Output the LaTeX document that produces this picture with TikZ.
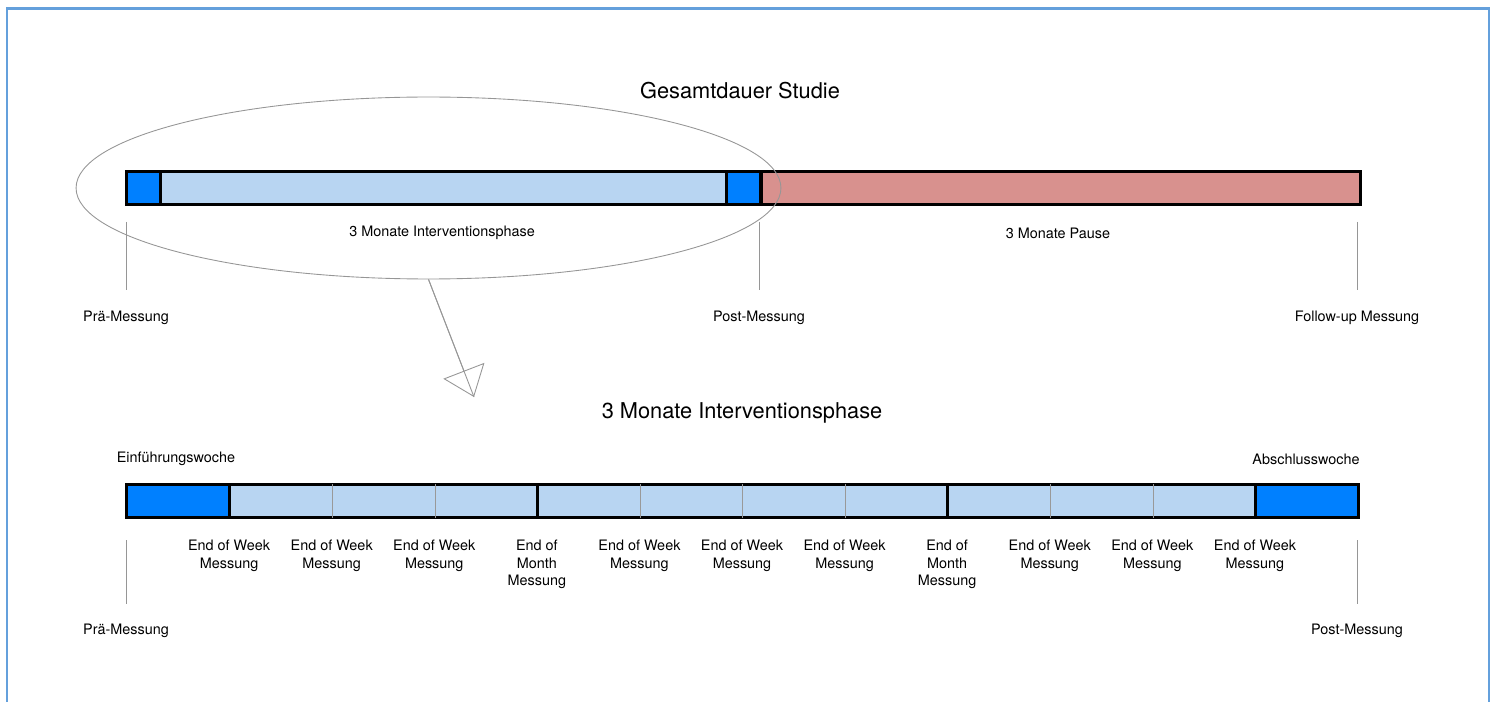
\documentclass[tikz,border=0pt]{standalone}
\usepackage{fontspec}
\setmainfont{TeX Gyre Heros}
\usetikzlibrary{arrows.meta,positioning,shapes.geometric}

\definecolor{messblau}{RGB}{0,128,255}
\definecolor{phasenblau}{RGB}{184,213,242}
\definecolor{pausenrot}{RGB}{216,145,142}
\definecolor{rahmenblau}{RGB}{100,160,220}
\definecolor{strichgrau}{RGB}{150,150,150}

\begin{document}
\begin{tikzpicture}
[x=0.02cm, y=-0.02cm, font=\fontsize{8.2}{9.8}\selectfont,
% STYLES
% the segments of a bar are filled boxes, the border is drawn afterwards
seg/.style={rectangle, inner sep=0pt, minimum height=0.66cm, draw=none},
barframe/.style={draw=black, line width=1.8pt},
monthdiv/.style={draw=black, line width=1.8pt},
weekdiv/.style={draw=gray!80, line width=0.5pt},
tick/.style={draw=strichgrau, line width=0.5pt},
label/.style={inner sep=0pt, align=center},
title/.style={inner sep=0pt, font=\fontsize{12.4}{14}\selectfont}]

\useasboundingbox (0,0) rectangle (1496,702);
\draw[rahmenblau, line width=1.2pt] (7,702) -- (7,8.5) -- (1489,8.5) -- (1489,702);

% Gesamtdauer
\node[title] (gesamt) at (740,91) {Gesamtdauer Studie};

\node[seg, fill=messblau, minimum width=0.67cm, anchor=west] (prae) at (126.5,188) {};
\node[seg, fill=phasenblau, minimum width=11.3cm, right=0pt of prae] (interv) {};
\node[seg, fill=messblau, minimum width=0.68cm, right=0pt of interv] (post) {};
\node[seg, fill=pausenrot, minimum width=11.97cm, right=0pt of post] (pause) {};

\draw[barframe] (prae.north west) rectangle (pause.south east);
\foreach \s in {prae,interv,post}
  \draw[monthdiv] (\s.north east) -- (\s.south east);

\node[label] (interv-lbl) at (442,233) {3 Monate Interventionsphase};
\node[label] (pause-lbl) at (1058,233) {3 Monate Pause};

% Messzeitpunkte
\foreach \x in {126,759,1357}
  \draw[tick] (\x,222) -- (\x,290);
\node[label] (prae-lbl) at (126,318) {Prä-Messung};
\node[label] (post-lbl) at (759,318) {Post-Messung};
\node[label] (follow-lbl) at (1357,318) {Follow-up Messung};

% Lupe auf die Interventionsphase
\node[ellipse, draw=strichgrau, line width=0.5pt, minimum width=14.1cm, minimum height=3.64cm, inner sep=0pt] (zoom) at (428.5,188) {};
\coordinate (zoom-tip) at (474,397);
\draw[strichgrau, line width=0.5pt] (zoom.south) -- (zoom-tip);
\draw[strichgrau, line width=0.5pt, -{Triangle[open, length=16pt, width=25pt]}] (zoom.south) -- (zoom-tip);

%%%%%%%%%%%%%%%%

% Interventionsphase
\node[title] (detail) at (742,413) {3 Monate Interventionsphase};
\node[label] (einf-lbl) at (176,459) {Einführungswoche};
\node[label] (abschl-lbl) at (1306,459) {Abschlusswoche};

\node[seg, fill=messblau, minimum width=2.0517cm, anchor=west] (einf) at (126.5,501) {};
\foreach \w in {1,...,10}
  \node[seg, fill=phasenblau, minimum width=2.0517cm, anchor=west] (w\w) at ({126.5+\w*102.583},501) {};
\node[seg, fill=messblau, minimum width=2.0517cm, right=0pt of w10] (abschl) {};

\draw[barframe] (einf.north west) rectangle (abschl.south east);
\foreach \s in {w1,w2,w4,w5,w6,w8,w9}
  \draw[weekdiv] (\s.north east) -- (\s.south east);
\foreach \s in {einf,w3,w7,w10}
  \draw[monthdiv] (\s.north east) -- (\s.south east);

\foreach \k in {1,2,3,5,6,7,9,10,11}
  \node[label, anchor=north] (m\k) at ({126.5+\k*102.583},540) {End of Week\\Messung};
\foreach \k in {4,8}
  \node[label, anchor=north] (m\k) at ({126.5+\k*102.583},540) {End of\\Month\\Messung};

\foreach \x in {126,1357}
  \draw[tick] (\x,540) -- (\x,604);
\node[label] (prae2-lbl) at (126,631) {Prä-Messung};
\node[label] (post2-lbl) at (1357,631) {Post-Messung};

\end{tikzpicture}
\end{document}
